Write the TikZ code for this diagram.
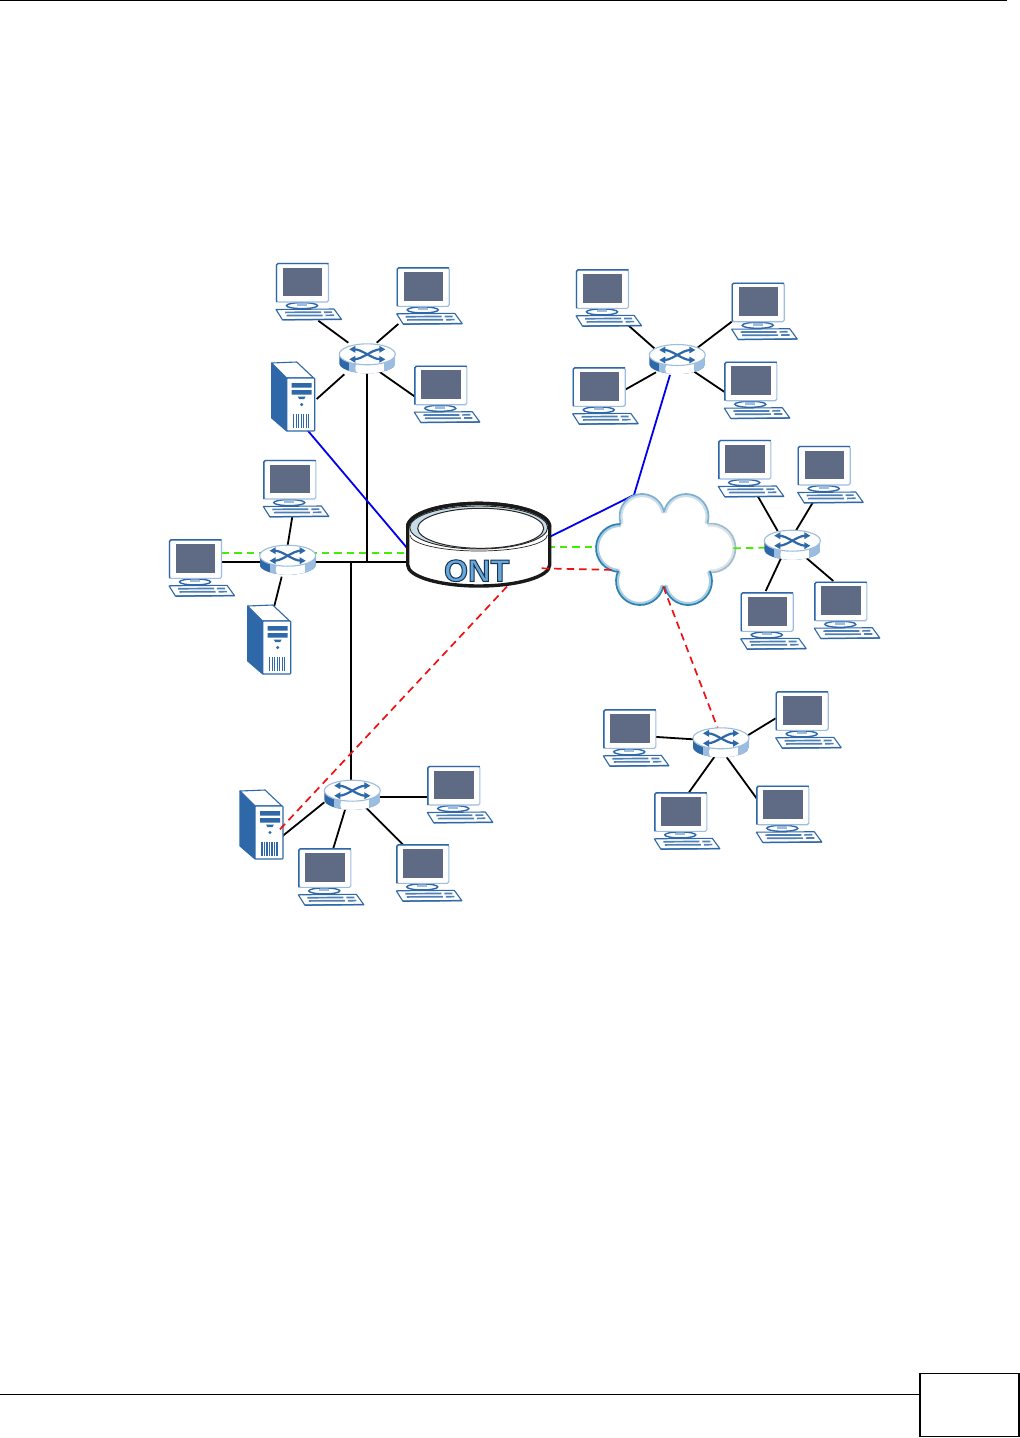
\documentclass[tikz,border=0pt]{standalone}
\usepackage{fontspec}
\setmainfont{Liberation Sans}
\usetikzlibrary{calc}
\definecolor{devblue}{HTML}{2F68A8}
\definecolor{devlight}{HTML}{9DBDE0}
\definecolor{screengrey}{HTML}{5F6B85}
\definecolor{wirered}{HTML}{EE1111}
\definecolor{wiregreen}{HTML}{44EE00}
\definecolor{wireblue}{HTML}{0000EE}
\definecolor{cloudstrong}{HTML}{2B82B5}
\definecolor{cloudsoft}{HTML}{7FB0CE}
\definecolor{cloudgrey}{HTML}{A3BCCB}
\definecolor{ontring}{HTML}{C5DDE8}
\definecolor{ontfill}{HTML}{6AA6D6}
\tikzset{
  wire/.style={draw=black,line width=1.8pt},
  bluewire/.style={draw=wireblue,line width=1.8pt},
  greenwire/.style={draw=wiregreen,line width=1.8pt,dash pattern=on 7.5pt off 5pt},
  redwire/.style={draw=wirered,line width=1.7pt,dash pattern=on 7.5pt off 5pt},
  devline/.style={draw=devblue,line width=1.1pt},
  rule/.style={draw=black,line width=1.1pt},
  ontline/.style={draw=black!90,line width=3.4pt},
}
\newcommand{\pcbox}[3]{%
  \begin{scope}[shift={(#2,#3)}]
    \coordinate (#1) at (26,28);
    % keyboard
    \filldraw[fill=white,devline,line join=round] (0,46.5) -- (58,46) -- (65.5,56.3) -- (6.5,56.8) -- cycle;
    \draw[devblue!85!white,line width=1.7pt] (9,49.4) -- (45,49.2) (10.5,52.6) -- (46.5,52.4);
    \draw[devblue!85!white,line width=1.7pt] (48,49.2) -- (56,49.1) (49.5,52.4) -- (58,52.3);
    \draw[devblue,line width=1.4pt] (6.5,56.8) -- (65.5,56.3);
    % stand
    \filldraw[fill=white,draw=devblue,line width=1.4pt] (26,42.6) ellipse [x radius=15.5,y radius=3];
    \fill[devlight] (21,40.2) rectangle (31,43);
    % monitor
    \filldraw[fill=white,draw=devlight,line width=1.1pt,rounded corners=1.5pt] (0.5,0.5) rectangle (52.5,39);
    \draw[devblue,line width=1.4pt,rounded corners=1.5pt] (0.5,39) -- (0.5,0.5) -- (52.5,0.5);
    \fill[screengrey] (7,4.5) rectangle (46.3,33.2);
  \end{scope}}
\newcommand{\serverbox}[3]{%
  \begin{scope}[shift={(#2,#3)}]
    \coordinate (#1) at (22,35);
    \filldraw[fill=devblue,devline,line join=round] (0,1) -- (15,16) -- (15,69) -- (0,56) -- cycle;
    \filldraw[fill=white,devline,line join=round] (0,1) -- (25,0) -- (42,16) -- (15,16) -- cycle;
    \filldraw[fill=white,devline,rounded corners=0.8pt] (15,16) rectangle (43,69);
    \fill[devblue] (20,21) rectangle (40,25.5) (20,28) rectangle (40,32.5);
    \fill[devblue] (26,34.5) -- (34,34.5) -- (32.5,37) -- (27.5,37) -- cycle;
    \fill[devblue] (30,42.5) circle (1.7);
    \foreach \vx in {22,24.5,...,38.5}{\draw[devblue,line width=1.4pt] (\vx,52) -- (\vx,66);}
  \end{scope}}
\newcommand{\routerbox}[3]{%
  \begin{scope}[shift={(#2,#3)}]
    \coordinate (#1) at (0,0);
    \begin{scope}
      \path[clip] (-28,0) -- (-28,9) arc[start angle=180,end angle=0,x radius=28,y radius=10] -- (28,0) -- cycle;
      \fill[devblue] (-28,-1) rectangle (28,22);
      \fill[devlight] (-18,-1) rectangle (28,22);
      \fill[white] (-5,-1) rectangle (17,22);
      \fill[devlight] (-18,-1) rectangle (-2,10);
      \fill[white] (-3,14) ellipse [x radius=9,y radius=8];
    \end{scope}
    \filldraw[fill=white,draw=devlight,line width=1.1pt] (0,0) ellipse [x radius=28,y radius=10.5];
    \draw[devblue,line width=2.2pt] (-13,-5) .. controls (-5,-5) and (5,5) .. (13,5);
    \draw[devblue,line width=2.2pt] (-13,5) .. controls (-5,5) and (5,-5) .. (13,-5);
    \fill[devblue] (-18,-5) -- (-12,-8.5) -- (-12,-1.5) -- cycle;
    \fill[devblue] (18,5) -- (12,1.5) -- (12,8.5) -- cycle;
    \fill[devblue] (-18,5) -- (-12,1.5) -- (-12,8.5) -- cycle;
    \fill[devblue] (18,-5) -- (12,-8.5) -- (12,-1.5) -- cycle;
  \end{scope}}
\newcommand{\lobe}[6]{%
  \draw[#6!40!white,line width=3.2pt,line cap=round] ([shift={(#1,#2)}] #4:#3-1.4) arc[start angle=#4,end angle=#5,radius=#3-1.4];
  \draw[#6,line width=1.7pt,line cap=round] ([shift={(#1,#2)}] #4:#3) arc[start angle=#4,end angle=#5,radius=#3];}
\begin{document}
\begin{tikzpicture}[x=1pt,y=-1pt]
\useasboundingbox (0,0) rectangle (1020,1438);
\fill[white] (0,0) rectangle (1020,1438);
% page furniture
\coordinate (topL) at (0,0.8);
\coordinate (topR) at (1007,0.8);
\coordinate (botL) at (0,1394.5);
\coordinate (pageTL) at (920,1373.5);
\coordinate (pageBR) at (1019,1436.5);
\coordinate (botR) at (pageTL |- botL);
\draw[rule] (topL) -- (topR);
\draw[rule] (botL) -- (botR);
\draw[black,line width=1.6pt] (pageTL) rectangle (pageBR);
% connector ends
\foreach \n/\x/\y in {
 a1/318.3/320.7, a1r/348.3/342.7, a2/398.3/324, a2r/376.7/342.7,
 a3/415/396.7, a3r/379.3/371.7, sa/316.7/399, sar/344.3/374.3,
 aDown/367/372, aJoin/367/562,
 saBlue/306.7/429.3, ontBlueL/407.3/548.3,
 c1/292.3/516.7, c1r/287.7/545, sc/274.3/606, scr/281.7/576.7,
 c2/221.7/562, c2r/260/562, cR/315.3/562, ontL/407.3/562,
 greenA/221.7/553, greenB/407.3/553,
 fDown/351/562, fTop/351/780,
 b1/626/323.3, b1r/654.3/348.3, b2/731.7/321.7, b2r/696.7/348.3,
 b3/623.3/390.7, b3r/656/372.3, b4/725/392.3, b4r/694.3/371.7,
 bBlue/670/375, kink/634/495, ontBlueR/550/536.7,
 ontGreen/547.3/546.7, cloudGreenL/596.7/546.7, cloudGreenR/733.3/548.3, dGreen/765/547.7,
 d1/756.7/494.3, d1r/777.7/531, d2/812.7/502.7, d2r/795.7/531,
 d3/765.7/591, d3r/781.7/556.7, d4/833.3/581, d4r/806.7/558.3,
 e1/652.7/736.7, e1r/693.3/739.3, e2/775.7/718.3, e2r/746.7/736,
 e3/689/792.3, e3r/715/756, e4/757.3/799.3, e4r/726.7/757.3,
 cloudRed/663.3/586.7, eRed/717.7/728.3,
 ontRedR/541.7/568.3, cloudRedL/616.7/570,
 f1/427.3/797, f1r/380/797, f2/403.3/845, f2r/365.7/807.3,
 f3/333.3/848.3, f3r/345/810, sf/281.7/836.7, sfr/324.3/802.3,
 sfRed/280/829.3, ontRedB/510/583.3}
 {\coordinate (\n) at (\x,\y);}
% connectors beneath the devices
\draw[greenwire] (greenA) -- (greenB);
\draw[wire] (a1) -- (a1r) (a2) -- (a2r) (a3) -- (a3r) (sa) -- (sar);
\draw[wire] (aDown) -- (aJoin);
\draw[wire] (c1) -- (c1r) (sc) -- (scr) (c2) -- (c2r) (cR) -- (ontL);
\draw[wire] (fDown) -- (fTop);
\draw[wire] (b1) -- (b1r) (b2) -- (b2r) (b3) -- (b3r) (b4) -- (b4r);
\draw[wire] (d1) -- (d1r) (d2) -- (d2r) (d3) -- (d3r) (d4) -- (d4r);
\draw[wire] (e1) -- (e1r) (e2) -- (e2r) (e3) -- (e3r) (e4) -- (e4r);
\draw[wire] (f1) -- (f1r) (f2) -- (f2r) (f3) -- (f3r) (sf) -- (sfr);
\draw[bluewire] (saBlue) -- (ontBlueL);
\draw[bluewire,line join=round] (bBlue) -- (kink) -- (ontBlueR);
% cloud
\fill[white] (642,516.5) circle (22.5) (686,516.5) circle (22.5) (711,548) circle (24.5)
  (688,581) circle (24) (640,581) circle (24) (620,548) circle (24) (615,515) rectangle (712,585);
\lobe{642}{516.5}{22.5}{163}{348}{cloudsoft}
\lobe{686}{516.5}{22.5}{192}{377}{cloudsoft}
\lobe{711}{548}{24.5}{-96}{92}{cloudgrey}
\lobe{688}{581}{24}{-23}{167}{cloudstrong}
\lobe{640}{581}{24}{13}{203}{cloudstrong}
\lobe{620}{548}{24}{94}{270}{cloudstrong}
\draw[greenwire] (ontGreen) -- (cloudGreenL);
\draw[greenwire] (cloudGreenR) -- (dGreen);
% ONT
\filldraw[fill=white,ontline,line join=round] (407.7,526.7) -- (407.7,565)
  arc[start angle=180,end angle=0,x radius=71,y radius=21] -- (549.7,526.7)
  arc[start angle=0,end angle=180,x radius=71,y radius=-23.3] -- cycle;
\draw[black!85,line width=0.7pt] (410,535) arc[start angle=180,end angle=0,x radius=68.7,y radius=16];
\filldraw[fill=ontring,draw=black!85,line width=0.9pt] (478.7,527.5) ellipse [x radius=69,y radius=21.5];
\draw[ontline] (407.7,526.7) arc[start angle=180,end angle=0,x radius=71,y radius=-23.3];
\filldraw[fill=white,draw=black!85,line width=1pt] (480.7,528.3) ellipse [x radius=63,y radius=20];
\node[inner sep=0pt,text=ontfill,font=\bfseries\fontsize{31}{31}\selectfont] (ont) at (476.7,570.7)
  {\special{pdf:code 2 Tr 1 w 0.08 0.2 0.35 RG}ONT\special{pdf:code 0 Tr}};
\draw[redwire] (ontRedR) -- (cloudRedL);
\draw[redwire] (cloudRed) -- (eRed);
% devices
\pcbox{pcAa}{276}{263}
\pcbox{pcAb}{396.7}{267.3}
\pcbox{pcAc}{414.3}{365.7}
\serverbox{srvA}{271.7}{362}
\routerbox{rtA}{367.3}{354.3}
\pcbox{pcBa}{576}{269.3}
\pcbox{pcBb}{731.7}{282.7}
\pcbox{pcBc}{572.7}{367.3}
\pcbox{pcBd}{724.3}{361.7}
\routerbox{rtB}{677.3}{355}
\pcbox{pcCa}{263.3}{460}
\pcbox{pcCb}{169}{539.3}
\serverbox{srvC}{247.7}{605}
\routerbox{rtC}{287.7}{555.7}
\pcbox{pcDa}{718.3}{440}
\pcbox{pcDb}{797.7}{446}
\pcbox{pcDc}{740.7}{592.3}
\pcbox{pcDd}{814.3}{581.7}
\routerbox{rtD}{792.3}{540.7}
\pcbox{pcEa}{603.3}{709.3}
\pcbox{pcEb}{775.7}{691.3}
\pcbox{pcEc}{654.3}{792.3}
\pcbox{pcEd}{756.3}{785.7}
\routerbox{rtE}{721}{738.3}
\pcbox{pcFa}{427.3}{766}
\pcbox{pcFb}{396.3}{844.3}
\pcbox{pcFc}{298.3}{848.3}
\serverbox{srvF}{240}{790}
\routerbox{rtF}{352.3}{790.7}
\draw[redwire] (sfRed) -- (ontRedB);
\end{tikzpicture}
\end{document}
